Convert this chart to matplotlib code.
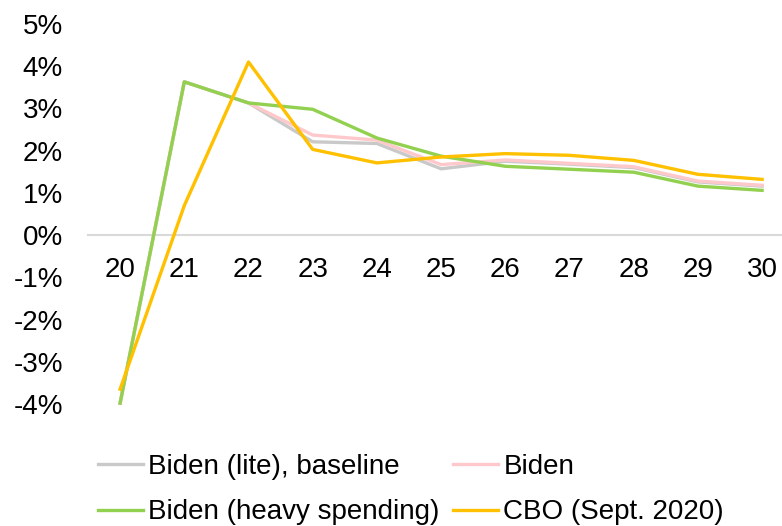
import matplotlib
matplotlib.use("Agg")
import matplotlib.pyplot as plt

plt.rcParams["font.family"] = ["Liberation Sans", "DejaVu Sans"]

years = ["20", "21", "22", "23", "24", "25", "26", "27", "28", "29", "30"]

biden_lite = [-3.98, 3.63, 3.13, 2.21, 2.17, 1.57, 1.75, 1.68, 1.60, 1.26, 1.16]
biden = [-3.98, 3.63, 3.13, 2.37, 2.25, 1.67, 1.78, 1.70, 1.62, 1.28, 1.18]
biden_heavy = [-3.98, 3.63, 3.13, 2.98, 2.30, 1.87, 1.63, 1.56, 1.49, 1.16, 1.06]
cbo = [-3.65, 0.70, 4.10, 2.03, 1.71, 1.85, 1.93, 1.89, 1.77, 1.44, 1.32]

series = [
    ("Biden (lite), baseline", biden_lite, "#C9C9C9"),
    ("Biden", biden, "#FFC9CC"),
    ("Biden (heavy spending)", biden_heavy, "#92D050"),
    ("CBO (Sept. 2020)", cbo, "#FFC000"),
]

fig = plt.figure(figsize=(7.82, 5.26), dpi=100)
ax = fig.add_axes([88 / 782, 1 - 404 / 526, 1 - 88 / 782, (404 - 24) / 526])

x = list(range(len(years)))
lines = {}
for name, vals, color in series:
    (ln,) = ax.plot(x, vals, color=color, lw=2.4, label=name, clip_on=False)
    lines[name] = ln

ax.set_xlim(-0.5, 10.31)
ax.set_ylim(-4, 5)
ax.set_yticks(range(-4, 6))
ax.set_yticklabels([f"{v}%" for v in range(-4, 6)])
ax.set_xticks(x)
ax.set_xticklabels(years)

for s in ["top", "right", "left"]:
    ax.spines[s].set_visible(False)
ax.spines["bottom"].set_position(("data", 0))
ax.spines["bottom"].set_color("#D9D9D9")
ax.spines["bottom"].set_linewidth(1.5)
ax.spines["bottom"].set_zorder(0)

ax.tick_params(axis="both", length=0, labelsize=20, colors="black")
ax.tick_params(axis="y", pad=18)
ax.tick_params(axis="x", pad=15.5)

# legend filled column by column: left column lite/heavy, right column Biden/CBO
order = ["Biden (lite), baseline", "Biden (heavy spending)", "Biden", "CBO (Sept. 2020)"]
fig.legend([lines[n] for n in order], order,
           loc="upper left", bbox_to_anchor=(98 / 782, 1 - 454 / 526),
           ncol=2, frameon=False, fontsize=20, handlelength=1.62,
           handletextpad=0.18, columnspacing=0.5, labelspacing=0.7,
           borderaxespad=0, borderpad=0)

fig.savefig("out.png", dpi=100)
